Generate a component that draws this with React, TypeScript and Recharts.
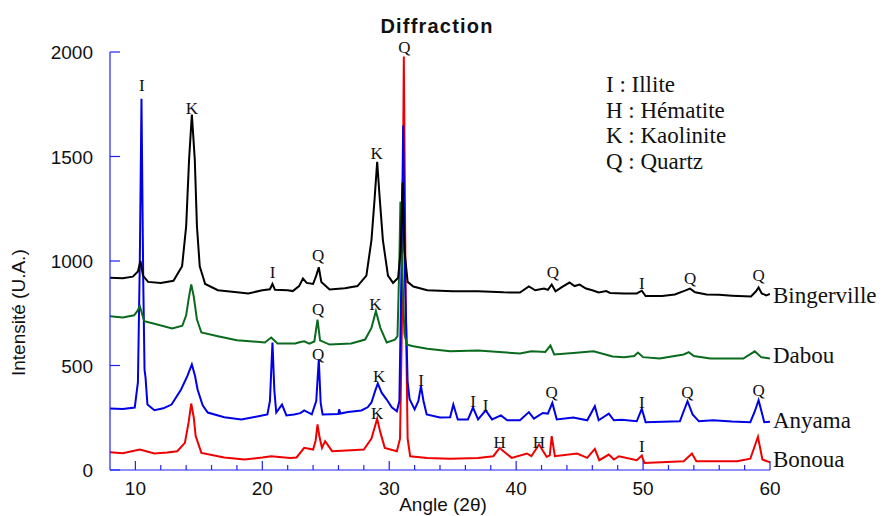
import { LineChart, Line, XAxis, YAxis, ReferenceDot } from 'recharts'

// diffractograms, [angle 2θ, intensity]
const bingerville = [
  [8, 920], [9, 918], [9.8, 925], [10.2, 950], [10.4, 1000], [10.6, 930], [11, 900], [12, 895], [13, 905],
  [13.68, 975], [14.0, 1166], [14.23, 1485], [14.45, 1701], [14.68, 1485], [14.85, 1166], [15.07, 975],
  [15.5, 890], [16.5, 860], [18, 850], [18.9, 845], [20, 860], [20.6, 865], [20.8, 890], [21.0, 862],
  [22, 860], [22.4, 856], [22.9, 880], [23.2, 916], [23.5, 895], [24.0, 890], [24.25, 930], [24.45, 970],
  [24.65, 900], [25.3, 864], [26.5, 870], [27.5, 880], [28.2, 930], [28.6, 1100], [28.85, 1300], [29.05, 1475],
  [29.25, 1300], [29.5, 1100], [29.9, 930], [30.3, 895], [30.7, 920], [30.9, 1050], [31.05, 1375], [31.2, 1050],
  [31.45, 900], [31.9, 878], [33, 860], [35, 855], [37, 855], [39, 850], [40.3, 849], [41.0, 878], [41.5, 860],
  [42.2, 868], [42.5, 862], [42.8, 887], [43.1, 855], [43.6, 875], [44.2, 897], [44.6, 880], [45.0, 887],
  [45.5, 868], [46.0, 860], [46.5, 849], [47.1, 856], [47.4, 847], [48.5, 845], [49.5, 845], [49.9, 858],
  [50.2, 832], [51.5, 832], [52.5, 840], [53.3, 858], [53.7, 868], [54.1, 850], [55, 840], [56, 838],
  [57, 834], [58.5, 830], [58.9, 855], [59.1, 873], [59.35, 845], [59.7, 835], [60, 842],
]

const dabou = [
  [8, 736], [9, 730], [9.9, 740], [10.15, 760], [10.35, 784], [10.7, 712], [11.5, 700], [12.9, 677], [13.7, 690],
  [14.0, 740], [14.2, 820], [14.4, 888], [14.6, 830], [14.85, 720], [15.2, 658], [16.5, 640], [18, 621],
  [20.2, 610], [20.7, 634], [21.2, 605], [22.6, 605], [23.0, 612], [23.3, 616], [23.7, 605], [24.1, 615],
  [24.35, 720], [24.55, 620], [25.3, 600], [27.0, 605], [28.1, 624], [28.6, 680], [28.95, 760], [29.3, 680],
  [29.8, 610], [30.45, 624], [30.65, 640], [30.8, 1000], [30.88, 1284], [31.0, 1000], [31.2, 650], [31.4, 600],
  [31.9, 592], [33, 580], [34.8, 568], [37, 572], [40.3, 557], [41.2, 568], [42.3, 565], [42.7, 596],
  [43.0, 553], [44.5, 560], [46.1, 568], [47.6, 543], [48.5, 540], [49.3, 545], [49.6, 562], [50.0, 540],
  [51.3, 533], [53.2, 553], [53.6, 564], [54.0, 545], [55.3, 533], [57.9, 533], [58.8, 568], [59.3, 540],
  [60, 533],
]

const anyama = [
  [8, 294], [9, 292], [9.95, 299], [10.2, 420], [10.35, 1000], [10.48, 1776], [10.62, 900], [10.72, 480],
  [10.8, 442], [10.95, 313], [11.5, 286], [12.2, 295], [12.85, 313], [13.6, 385], [14.1, 450], [14.45, 505],
  [14.7, 450], [14.9, 385], [15.3, 310], [15.7, 275], [17, 252], [18.35, 242], [19.5, 255], [20.4, 266],
  [20.6, 330], [20.8, 610], [20.95, 380], [21.1, 275], [21.55, 313], [21.9, 261], [22.5, 266], [23.0, 272],
  [23.3, 285], [23.9, 266], [24.25, 330], [24.45, 529], [24.6, 320], [24.75, 266], [26.0, 268], [26.05, 290],
  [26.15, 270], [26.75, 277], [27.8, 285], [28.3, 300], [28.6, 323], [28.9, 380], [29.1, 414], [29.4, 370],
  [29.8, 337], [30.2, 300], [30.6, 281], [30.8, 330], [30.95, 900], [31.1, 1648], [31.25, 900], [31.45, 420],
  [31.6, 340], [32.0, 290], [32.3, 330], [32.5, 401], [32.7, 330], [32.95, 266], [34, 251], [34.8, 252],
  [35.05, 313], [35.4, 242], [36.2, 242], [36.6, 299], [37.0, 242], [37.6, 285], [38.1, 242], [38.8, 261],
  [39.3, 238], [40.3, 238], [41.0, 277], [41.4, 246], [42.1, 273], [42.5, 270], [42.85, 321], [43.2, 242],
  [44.5, 251], [45.6, 238], [46.2, 305], [46.5, 238], [47.3, 270], [47.7, 238], [48.3, 240], [49.5, 233],
  [49.9, 293], [50.2, 229], [52.9, 233], [53.5, 329], [53.9, 266], [54.4, 233], [55.5, 238], [57, 232],
  [58.45, 229], [58.8, 280], [59.1, 334], [59.55, 229], [60, 231],
]

const bonoua = [
  [8, 85], [9, 80], [10.35, 98], [11.5, 79], [12.5, 84], [13.3, 90], [13.9, 130], [14.2, 230], [14.4, 318],
  [14.6, 250], [14.75, 162], [15.2, 82], [17, 60], [18.6, 50], [20, 60], [20.7, 66], [22.2, 58], [22.7, 60],
  [23.3, 106], [24.0, 98], [24.2, 140], [24.35, 218], [24.5, 160], [24.7, 106], [24.95, 138], [25.5, 90],
  [27, 95], [28, 98], [28.6, 150], [29.05, 245], [29.3, 180], [29.65, 106], [30.6, 90], [30.85, 150],
  [31.0, 700], [31.15, 1978], [31.3, 800], [31.45, 150], [31.65, 66], [33, 58], [34.8, 54], [37, 58],
  [38.2, 66], [38.7, 106], [39.0, 90], [39.65, 58], [40.85, 79], [41.2, 66], [41.8, 122], [42.4, 63],
  [42.65, 70], [42.8, 162], [43.05, 66], [44.8, 79], [45.6, 58], [46.2, 101], [46.55, 47], [47.3, 74],
  [47.7, 50], [48.1, 66], [49.5, 47], [49.9, 69], [50.1, 34], [53.2, 42], [53.85, 79], [54.2, 42],
  [57.4, 42], [58.45, 54], [59.05, 159], [59.4, 50], [60, 37],
]

// mineral markers: [angle, intensity, letter]
const peakLabels: [number, number, string][] = [
  [10.5, 1844, 'I'], [14.45, 1730, 'K'], [20.8, 945, 'I'], [24.4, 1031, 'Q'], [29.0, 1519, 'K'],
  [31.2, 2022, 'Q'], [42.9, 945, 'Q'], [49.9, 897, 'I'], [53.7, 921, 'Q'], [59.1, 935, 'Q'],
  [24.4, 768, 'Q'], [28.9, 792, 'K'],
  [24.4, 557, 'Q'], [29.2, 452, 'K'], [32.5, 433, 'I'], [36.6, 329, 'I'], [37.6, 313, 'I'],
  [42.8, 371, 'Q'], [49.9, 323, 'I'], [53.5, 372, 'Q'], [59.1, 385, 'Q'],
  [29.05, 275, 'K'], [38.7, 136, 'H'], [41.8, 136, 'H'], [49.9, 114, 'I'],
]

const legendLines = ['I : Illite', 'H : Hématite', 'K : Kaolinite', 'Q : Quartz']
const sampleNames = ['Bingerville', 'Dabou', 'Anyama', 'Bonoua']

const xTicks = [10, 12, 14, 16, 18, 20, 22, 24, 26, 28, 30, 32, 34, 36, 38, 40, 42, 44, 46, 48, 50, 52, 54, 56, 58, 60]
const yTicks = [0, 500, 1000, 1500, 2000]

const AXIS = '#2020ff'
const SANS = '"Liberation Sans", Arial, sans-serif'
const SERIF = '"Liberation Serif", "Times New Roman", serif'

const toPoints = (arr: number[][]) => arr.map(([a, v]) => ({ a, v }))

function XTick({ x, y, payload }: any) {
  const major = payload.value % 10 === 0
  return (
    <g>
      <line x1={x} x2={x} y1={y} y2={y - (major ? 9 : 5)} stroke={AXIS} strokeWidth={1.2} />
      {major && (
        <text x={x} y={y + 25} textAnchor="middle" fontFamily={SANS} fontSize={19} fill="#111">
          {payload.value}
        </text>
      )}
    </g>
  )
}

function YTick({ x, y, payload }: any) {
  return (
    <g>
      <line x1={x} x2={x + 10} y1={y} y2={y} stroke={AXIS} strokeWidth={1.2} />
      <text x={x - 17} y={y + 7} textAnchor="end" fontFamily={SANS} fontSize={19} fill="#111">
        {payload.value}
      </text>
    </g>
  )
}

const series = [
  { name: 'Bonoua', data: bonoua, color: '#ee0000' },
  { name: 'Anyama', data: anyama, color: '#0000e6' },
  { name: 'Dabou', data: dabou, color: '#0a6a1e' },
  { name: 'Bingerville', data: bingerville, color: '#000000' },
]

const nameBaselines = [303, 363, 428, 467]

export default function App() {
  return (
    <div style={{ position: 'absolute', left: 0, top: 0, width: 884, height: 516, background: '#fff', overflow: 'hidden' }}>
      <LineChart width={884} height={516} margin={{ top: 52, right: 114, bottom: 15, left: 50 }}>
        <XAxis
          type="number"
          dataKey="a"
          domain={[8, 60]}
          ticks={xTicks}
          allowDataOverflow
          height={31}
          stroke={AXIS}
          axisLine={{ stroke: AXIS, strokeWidth: 1.2 }}
          tickLine={false}
          tickSize={0}
          tickMargin={0}
          interval={0}
          tick={<XTick />}
        />
        <YAxis
          type="number"
          dataKey="v"
          domain={[0, 2000]}
          ticks={yTicks}
          allowDataOverflow
          width={60}
          axisLine={{ stroke: AXIS, strokeWidth: 1.2 }}
          tickLine={false}
          tickSize={0}
          tickMargin={0}
          interval={0}
          tick={<YTick />}
        />
        {series.map((s) => (
          <Line
            key={s.name}
            data={toPoints(s.data)}
            dataKey="v"
            type="linear"
            stroke={s.color}
            strokeWidth={2}
            dot={false}
            isAnimationActive={false}
          />
        ))}
        {peakLabels.map(([a, v, t], i) => (
          <ReferenceDot
            key={i}
            x={a}
            y={v}
            r={0}
            ifOverflow="visible"
            shape={(p: any) => (
              <text x={p.cx} y={p.cy + 6} textAnchor="middle" fontFamily={SERIF} fontSize={17} fill="#111">
                {t}
              </text>
            )}
          />
        ))}
      </LineChart>
      <svg width={884} height={516} style={{ position: 'absolute', left: 0, top: 0, pointerEvents: 'none' }}>
        <text x={437} y={33} textAnchor="middle" fontFamily={SANS} fontWeight="bold" fontSize={20} letterSpacing={1.2} fill="#111">
          Diffraction
        </text>
        <text
          transform="translate(25, 376) rotate(-90)"
          textAnchor="start"
          fontFamily={SANS}
          fontSize={19}
          fill="#111"
        >
          Intensité (U.A.)
        </text>
        <text x={443} y={511} textAnchor="middle" fontFamily={SANS} fontSize={19} fill="#111">
          Angle (2θ)
        </text>
        {legendLines.map((l, i) => (
          <text key={l} x={606} y={92 + i * 25.5} fontFamily={SERIF} fontSize={23} fill="#111">
            {l}
          </text>
        ))}
        {sampleNames.map((n, i) => (
          <text key={n} x={773} y={nameBaselines[i]} fontFamily={SERIF} fontSize={23} fill="#111">
            {n}
          </text>
        ))}
      </svg>
    </div>
  )
}
